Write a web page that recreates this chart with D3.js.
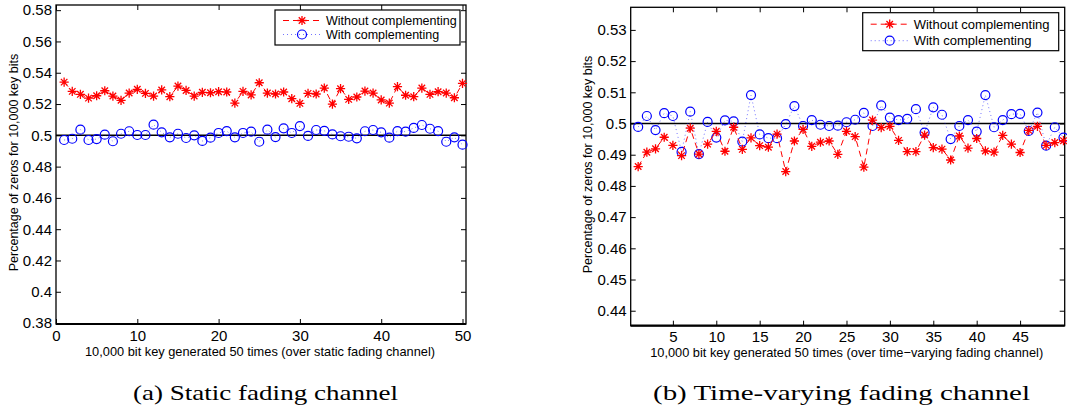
<!DOCTYPE html>
<html><head><meta charset="utf-8">
<script src="https://cdn.jsdelivr.net/npm/d3@7"></script>
<style>
body{margin:0;background:#fff}
svg text{font-family:"Liberation Sans",Arial,Helvetica,sans-serif;fill:#000}
</style>
</head><body>
<svg id="chart" width="1067" height="414"></svg>
<script>
// ---------------- data ----------------
const runs = d3.range(1, 51);

const staticWithout = [
  0.534, 0.5281, 0.5262, 0.5238, 0.5253, 0.5285, 0.5251, 0.5224, 0.527, 0.5294,
  0.5268, 0.5251, 0.529, 0.5247, 0.5315, 0.5287, 0.5251, 0.5275, 0.5272, 0.5279,
  0.5277, 0.5206, 0.5281, 0.5258, 0.5336, 0.527, 0.5264, 0.5277, 0.5234, 0.5204,
  0.5268, 0.5264, 0.5302, 0.52, 0.5298, 0.523, 0.5245, 0.5283, 0.527, 0.5226,
  0.5206, 0.5311, 0.5256, 0.5247, 0.5302, 0.5262, 0.5279, 0.527, 0.524, 0.5332];
const staticWith = [
  0.497, 0.4978, 0.5036, 0.497, 0.4976, 0.5004, 0.4962, 0.501, 0.5026, 0.5002,
  0.5002, 0.5068, 0.5019, 0.4987, 0.501, 0.4983, 0.5, 0.4964, 0.4985, 0.5015,
  0.5027, 0.4987, 0.5015, 0.5023, 0.4959, 0.5036, 0.4989, 0.5045, 0.5015, 0.5059,
  0.4996, 0.5034, 0.5029, 0.5006, 0.4994, 0.4991, 0.4981, 0.5026, 0.5034, 0.5019,
  0.4985, 0.5027, 0.5023, 0.5047, 0.5066, 0.5042, 0.5027, 0.4959, 0.4987, 0.494];
const varyingWithout = [
  0.4862, 0.4908, 0.4919, 0.4956, 0.493, 0.4897, 0.4985, 0.4902, 0.4934, 0.4975,
  0.4911, 0.4988, 0.4917, 0.4954, 0.4929, 0.4924, 0.4966, 0.4846, 0.4944, 0.4981,
  0.4927, 0.494, 0.4944, 0.4901, 0.4975, 0.4958, 0.486, 0.5011, 0.4987, 0.4991,
  0.4946, 0.491, 0.491, 0.4963, 0.4923, 0.4918, 0.4883, 0.496, 0.4921, 0.4952,
  0.4912, 0.4908, 0.4962, 0.4934, 0.4907, 0.4978, 0.4991, 0.493, 0.4939, 0.4945];
const varyingWith = [
  0.4989, 0.5024, 0.4979, 0.5033, 0.5024, 0.4909, 0.5038, 0.4902, 0.5005, 0.4955,
  0.501, 0.5007, 0.4942, 0.5091, 0.4965, 0.4953, 0.4953, 0.4998, 0.5056, 0.4992,
  0.5011, 0.4996, 0.4992, 0.4993, 0.5004, 0.5012, 0.5034, 0.4992, 0.5058, 0.5019,
  0.5011, 0.5015, 0.5046, 0.4971, 0.5052, 0.5028, 0.495, 0.4992, 0.5011, 0.4974,
  0.5091, 0.4988, 0.5011, 0.503, 0.5031, 0.4976, 0.5035, 0.4929, 0.4988, 0.4955];

const staticXTicks = [0, 10, 20, 30, 40, 50];
const staticYTicks = [0.38, 0.4, 0.42, 0.44, 0.46, 0.48, 0.5, 0.52, 0.54, 0.56, 0.58];
const varyingXTicks = [5, 10, 15, 20, 25, 30, 35, 40, 45];
const varyingYTicks = [0.44, 0.45, 0.46, 0.47, 0.48, 0.49, 0.5, 0.51, 0.52, 0.53];
const referenceLevel = 0.5;

const seriesNames = ["Without complementing", "With complementing"];
const yAxisTitle = "Percentage of zeros for 10,000 key bits";
const staticXTitle = "10,000 bit key generated 50 times (over static fading channel)";
const varyingXTitle = "10,000 bit key generated 50 times (over time\u2212varying fading channel)";
const captions = ["(a) Static fading channel", "(b) Time-varying fading channel"];

// ---------------- drawing ----------------
const svg = d3.select("#chart");
const RED = "#ff0000", BLUE = "#0000ff";
const starPath = (() => {
  const r = 4.6, d = r * 0.7071;
  return `M0,${-r}L0,${r}M${-r},0L${r},0M${-d},${-d}L${d},${d}M${-d},${d}L${d},${-d}`;
})();

function panel(cfg) {
  const x = d3.scaleLinear().domain(cfg.xDomain).range([cfg.left, cfg.right]);
  const y = d3.scaleLinear().domain(cfg.yDomain).range([cfg.bottom, cfg.top]);
  const g = svg.append("g");
  const fmt = d => String(+d.toFixed(4));

  // axes with inward ticks on all four sides
  g.append("g").attr("transform", `translate(0,${cfg.bottom})`)
    .call(d3.axisBottom(x).tickValues(cfg.xTicks).tickSize(-5).tickPadding(6).tickFormat(fmt));
  g.append("g").attr("transform", `translate(0,${cfg.top})`)
    .call(d3.axisTop(x).tickValues(cfg.xTicks).tickSize(-5).tickFormat(""));
  g.append("g").attr("transform", `translate(${cfg.left},0)`)
    .call(d3.axisLeft(y).tickValues(cfg.yTicks).tickSize(-5).tickPadding(4).tickFormat(fmt));
  g.append("g").attr("transform", `translate(${cfg.right},0)`)
    .call(d3.axisRight(y).tickValues(cfg.yTicks).tickSize(-5).tickFormat(""));
  g.selectAll(".domain").remove();
  g.selectAll(".tick line").attr("stroke", "#000").attr("stroke-width", 1);
  g.selectAll(".tick text").style("font-size", "15px").attr("fill", "#111");

  // frame
  g.append("rect").attr("x", cfg.left).attr("y", cfg.top)
    .attr("width", cfg.right - cfg.left).attr("height", cfg.bottom - cfg.top)
    .attr("fill", "none").attr("stroke", "#000").attr("stroke-width", 1.3);
  g.append("line").attr("x1", cfg.left).attr("x2", cfg.right)
    .attr("y1", cfg.bottom).attr("y2", cfg.bottom)
    .attr("stroke", "#000").attr("stroke-width", 2.2);

  // reference line at 0.5
  g.append("line").attr("x1", cfg.left).attr("x2", cfg.right)
    .attr("y1", y(referenceLevel)).attr("y2", y(referenceLevel))
    .attr("stroke", "#000").attr("stroke-width", 1.5);

  const line = d3.line().x((d, i) => x(runs[i])).y(d => y(d));

  // with complementing: dotted blue + circles
  g.append("path").datum(cfg.withC).attr("d", line)
    .attr("fill", "none").attr("stroke", BLUE).attr("stroke-width", 1)
    .attr("stroke-dasharray", "1,3").attr("opacity", 0.55);
  g.append("g").selectAll("circle").data(cfg.withC).join("circle")
    .attr("cx", (d, i) => x(runs[i])).attr("cy", d => y(d)).attr("r", 4.5)
    .attr("fill", "none").attr("stroke", BLUE).attr("stroke-width", 1.2);

  // without complementing: dashed red + stars
  g.append("path").datum(cfg.without).attr("d", line)
    .attr("fill", "none").attr("stroke", RED).attr("stroke-width", 1)
    .attr("stroke-dasharray", "6,4");
  g.append("g").selectAll("path").data(cfg.without).join("path")
    .attr("d", starPath)
    .attr("transform", (d, i) => `translate(${x(runs[i])},${y(d)})`)
    .attr("fill", "none").attr("stroke", RED).attr("stroke-width", 1.3);

  // legend
  const L = cfg.legend;
  g.append("rect").attr("x", L.x).attr("y", L.y).attr("width", L.w).attr("height", L.h)
    .attr("fill", "#fff").attr("stroke", "#000").attr("stroke-width", 1.2);
  const rows = [
    {name: seriesNames[0], color: RED, dash: "6,4", mark: "star", op: 1},
    {name: seriesNames[1], color: BLUE, dash: "1,3", mark: "circle", op: 0.55}
  ];
  rows.forEach((r, k) => {
    const cy = L.y + L.row0 + k * L.rowStep;
    g.append("line").attr("x1", L.x + 8).attr("x2", L.x + 46).attr("y1", cy).attr("y2", cy)
      .attr("stroke", r.color).attr("stroke-dasharray", r.dash).attr("opacity", r.op);
    if (r.mark === "star") {
      g.append("path").attr("d", starPath).attr("transform", `translate(${L.x + 27},${cy})`)
        .attr("fill", "none").attr("stroke", r.color).attr("stroke-width", 1.3);
    } else {
      g.append("circle").attr("cx", L.x + 27).attr("cy", cy).attr("r", 4.5)
        .attr("fill", "none").attr("stroke", r.color).attr("stroke-width", 1.2);
    }
    g.append("text").attr("x", L.x + 51).attr("y", cy).attr("dy", "0.35em")
      .style("font-size", L.font + "px").text(r.name);
  });

  // titles
  g.append("text").attr("transform", `translate(${cfg.yTitleX},${(cfg.top + cfg.bottom) / 2 - 2}) rotate(-90)`)
    .attr("text-anchor", "middle").attr("dy", "0.35em").style("font-size", "12.5px").text(yAxisTitle);
  g.append("text").attr("x", (cfg.left + cfg.right) / 2 - 1).attr("y", cfg.xTitleY).attr("dy", "0.35em")
    .attr("text-anchor", "middle").style("font-size", "12.8px").text(cfg.xTitle);
  g.append("text").attr("x", cfg.captionX - cfg.captionW / 2).attr("y", 393).attr("dy", "0.35em")
    .attr("textLength", cfg.captionW).attr("lengthAdjust", "spacingAndGlyphs")
    .style("font-family", "'Liberation Serif',serif").style("font-size", "21px")
    .text(cfg.caption);
}

panel({
  left: 56, right: 466, top: 5, bottom: 324,
  xDomain: [0, 50.43], yDomain: [0.3794, 0.5833],
  xTicks: staticXTicks, yTicks: staticYTicks,
  without: staticWithout, withC: staticWith,
  legend: {x: 275, y: 10, w: 185, h: 35, row0: 10.5, rowStep: 14, font: 12.5},
  yTitleX: 14, xTitleY: 352, xTitle: staticXTitle,
  captionX: 265.5, captionW: 265, caption: captions[0]
});
panel({
  left: 630.7, right: 1064.7, top: 7.3, bottom: 325.7,
  xDomain: [0.14, 50.14], yDomain: [0.4352, 0.53724],
  xTicks: varyingXTicks, yTicks: varyingYTicks,
  without: varyingWithout, withC: varyingWith,
  legend: {x: 862.7, y: 12.7, w: 196, h: 38, row0: 11.5, rowStep: 16.5, font: 13},
  yTitleX: 588, xTitleY: 353, xTitle: varyingXTitle,
  captionX: 841.5, captionW: 377, caption: captions[1]
});
</script>
</body></html>
